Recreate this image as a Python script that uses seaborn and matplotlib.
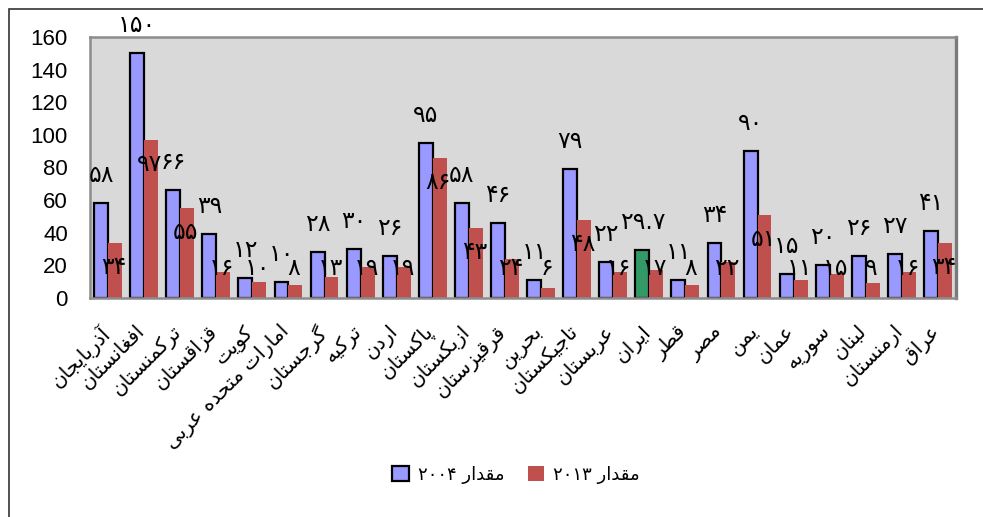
import matplotlib
matplotlib.use("Agg")
import matplotlib.pyplot as plt
import matplotlib.transforms as mtransforms
from matplotlib.patches import Patch, Rectangle
import seaborn as sns
import pandas as pd

# ---------------- data ----------------
countries = ["آذربایجان", "افغانستان", "ترکمنستان", "قزاقستان", "کویت",
             "امارات متحده عربی", "گرجستان", "ترکیه", "اردن", "پاکستان",
             "ازبکستان", "قرقیزستان", "بحرین", "تاجیکستان", "عربستان",
             "ایران", "قطر", "مصر", "یمن", "عمان", "سوریه", "لبنان",
             "ارمنستان", "عراق"]
values_2004 = [58, 150, 66, 39, 12, 10, 28, 30, 26, 95, 58, 46, 11, 79, 22,
               29.7, 11, 34, 90, 15, 20, 26, 27, 41]
values_2013 = [34, 97, 55, 16, 10, 8, 13, 19, 19, 86, 43, 24, 6, 48, 16,
               17, 8, 22, 51, 11, 15, 9, 16, 34]
series_names = ["مقدار ۲۰۰۴", "مقدار ۲۰۱۳"]
highlight = "ایران"
y_ticks = [0, 20, 40, 60, 80, 100, 120, 140, 160]

# ------------- minimal Arabic/Persian shaping -------------
FORMS = {
    "ا": ("\uFE8D", "\uFE8E"), "آ": ("\uFE81", "\uFE82"),
    "د": ("\uFEA9", "\uFEAA"), "ذ": ("\uFEAB", "\uFEAC"),
    "ر": ("\uFEAD", "\uFEAE"), "ز": ("\uFEAF", "\uFEB0"),
    "و": ("\uFEED", "\uFEEE"),
    "ب": ("\uFE8F", "\uFE90", "\uFE91", "\uFE92"),
    "پ": ("\uFB56", "\uFB57", "\uFB58", "\uFB59"),
    "ت": ("\uFE95", "\uFE96", "\uFE97", "\uFE98"),
    "ج": ("\uFE9D", "\uFE9E", "\uFE9F", "\uFEA0"),
    "ح": ("\uFEA1", "\uFEA2", "\uFEA3", "\uFEA4"),
    "س": ("\uFEB1", "\uFEB2", "\uFEB3", "\uFEB4"),
    "ص": ("\uFEB9", "\uFEBA", "\uFEBB", "\uFEBC"),
    "ط": ("\uFEC1", "\uFEC2", "\uFEC3", "\uFEC4"),
    "ع": ("\uFEC9", "\uFECA", "\uFECB", "\uFECC"),
    "غ": ("\uFECD", "\uFECE", "\uFECF", "\uFED0"),
    "ف": ("\uFED1", "\uFED2", "\uFED3", "\uFED4"),
    "ق": ("\uFED5", "\uFED6", "\uFED7", "\uFED8"),
    "ک": ("\uFB8E", "\uFB8F", "\uFB90", "\uFB91"),
    "گ": ("\uFB92", "\uFB93", "\uFB94", "\uFB95"),
    "ل": ("\uFEDD", "\uFEDE", "\uFEDF", "\uFEE0"),
    "م": ("\uFEE1", "\uFEE2", "\uFEE3", "\uFEE4"),
    "ن": ("\uFEE5", "\uFEE6", "\uFEE7", "\uFEE8"),
    "ه": ("\uFEE9", "\uFEEA", "\uFEEB", "\uFEEC"),
    "ی": ("\uFBFC", "\uFBFD", "\uFBFE", "\uFBFF"),
}


def shape_word(w):
    out = []
    for i, ch in enumerate(w):
        if ch not in FORMS:
            out.append(ch)
            continue
        prev = w[i - 1] if i > 0 else None
        nxt = w[i + 1] if i + 1 < len(w) else None
        cp = prev is not None and prev in FORMS and len(FORMS[prev]) == 4
        cn = len(FORMS[ch]) == 4 and nxt is not None and nxt in FORMS
        f = FORMS[ch]
        if cp and cn:
            out.append(f[3])
        elif cp:
            out.append(f[1])
        elif cn:
            out.append(f[2])
        else:
            out.append(f[0])
    return "".join(out)


def visual(text):
    tokens = text.split(" ")
    res = []
    for t in reversed(tokens):
        if any(c in FORMS for c in t):
            res.append(shape_word(t)[::-1])
        else:
            res.append(t)
    return " ".join(res)


def fa_digits(v):
    s = ("%g" % v)
    return s.translate(str.maketrans("0123456789", "۰۱۲۳۴۵۶۷۸۹"))


# ---------------- figure ----------------
W, H = 983, 517
DPI = 100
fig = plt.figure(figsize=(W / DPI, H / DPI), dpi=DPI)
fig.patch.set_facecolor("white")
L, R, T, B = 90, 956, 37, 298
ax = fig.add_axes([L / W, 1 - B / H, (R - L) / W, (B - T) / H])

df = pd.DataFrame({
    "country": countries * 2,
    "value": values_2004 + values_2013,
    "series": [series_names[0]] * len(countries) + [series_names[1]] * len(countries),
})

blue, red, green = "#9999FF", "#C0504D", "#339966"
sns.barplot(data=df, x="country", y="value", hue="series", order=countries,
            hue_order=series_names, palette=[blue, red], width=0.77,
            saturation=1, ax=ax, legend=False, errorbar=None)

c04, c13 = ax.containers[0], ax.containers[1]
for p in c04:
    p.set_edgecolor("black")
    p.set_linewidth(1.6)
for p in c13:
    p.set_edgecolor("none")
    p.set_linewidth(0)
c04[countries.index(highlight)].set_facecolor(green)

ax.set_facecolor("#D9D9D9")
for s in ax.spines.values():
    s.set_color("#8C8C8C")
    s.set_linewidth(1.8)
ax.spines["right"].set_color("#7A7A7A")
ax.spines["right"].set_linewidth(2.4)
ax.set_ylim(0, 160)
ax.set_xlim(-0.5, len(countries) - 0.5)
ax.set_yticks(y_ticks)
ax.set_yticklabels([str(t) for t in y_ticks], fontsize=16,
                   family="Liberation Sans")
ax.tick_params(axis="y", length=0, pad=16)
ax.tick_params(axis="x", length=0, pad=4)
ax.set_xlabel("")
ax.set_ylabel("")
ax.set_xticks(range(len(countries)))
ax.set_xticklabels([visual(c) for c in countries], rotation=45, ha="right",
                   va="top", rotation_mode="anchor", fontsize=14.5,
                   family="DejaVu Sans")
shift = mtransforms.ScaledTranslation(-9 / DPI, -18 / DPI, fig.dpi_scale_trans)
for lbl in ax.get_xticklabels():
    lbl.set_transform(lbl.get_transform() + shift)

# data labels
PT = 72 / DPI  # points per pixel
y0_px = ax.transData.transform((0, 0))[1]
for p, v in zip(c04, values_2004):
    ax.annotate(fa_digits(v), (p.get_x() + p.get_width() / 2, p.get_height()),
                xytext=(0, 28 * PT), textcoords="offset points", ha="center",
                va="center", fontsize=17, family="DejaVu Sans", color="black",
                annotation_clip=False)
for p, v in zip(c13, values_2013):
    top_px = ax.transData.transform((0, p.get_height()))[1]
    below = min(24, (top_px - y0_px) - 30)  # keep label inside plot area
    ax.annotate(fa_digits(v), (p.get_x() + p.get_width() / 2 - 0.04, p.get_height()),
                xytext=(0, -below * PT), textcoords="offset points", ha="center",
                va="center", fontsize=17, family="DejaVu Sans", color="black",
                annotation_clip=False)

# legend
handles = [Patch(facecolor=blue, edgecolor="black", linewidth=1.6),
           Patch(facecolor=red, edgecolor="none")]
fig.legend(handles, [visual(s) for s in series_names], loc="center",
           bbox_to_anchor=(516 / W, 1 - 475 / H), ncol=2, frameon=False,
           prop={"family": "DejaVu Sans", "size": 13}, handlelength=0.9,
           handleheight=0.9, handletextpad=0.5, columnspacing=1.3)

# outer chart border (extends beyond the canvas on right/bottom)
fig.add_artist(Rectangle((8.5 / W, -0.2), 1.2, 1.2 - 8.5 / H,
                         transform=fig.transFigure, fill=False,
                         edgecolor="#333333", linewidth=1.2))

fig.savefig("out.png", dpi=DPI)
